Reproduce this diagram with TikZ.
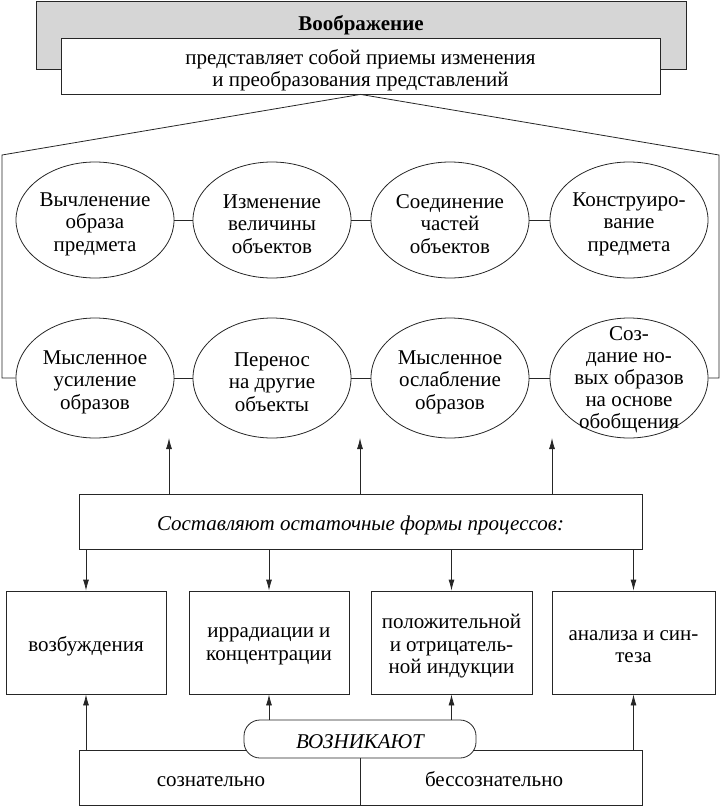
\documentclass[tikz,border=0pt]{standalone}
\usepackage{fontspec}
\setmainfont{Liberation Serif}
\usetikzlibrary{shapes.geometric,arrows.meta}
\begin{document}
\begin{tikzpicture}[x=1pt,y=1pt,
  every node/.style={font=\fontsize{21}{22.5}\selectfont, align=center, inner sep=0pt},
  tx/.style={yshift=-4pt},
  line/.style={line width=0.8pt, draw=black!85},
  arr/.style={line width=0.8pt, draw=black!85, -{Latex[length=11pt,width=6pt]}},
  ell/.style={ellipse, line width=0.8pt, draw=black!85, minimum width=158pt, minimum height=116pt},
  ellb/.style={ell, minimum height=120pt},
  pbox/.style={rectangle, line width=0.8pt, draw=black!85, minimum height=103pt}]
\useasboundingbox (0,0) rectangle (721,-806);
% header
\node[line width=0.8pt, draw=black!85, fill=black!16, minimum width=650pt, minimum height=68pt] (gb) at (361,-35) {};
\node[font=\fontsize{21}{22.5}\selectfont\bfseries] (title) at (361,-25) {Воображение};
\node[line width=0.8pt, draw=black!85, fill=white, minimum width=599pt, minimum height=56pt] (wb) at (360.5,-66) {};
\node[tx] (wbt) at (wb) {представляет собой приемы изменения\\и преобразования представлений};
% ellipses top row
\node[ell] (e1) at (95,-220) {};
\node[ell] (e2) at (272,-220) {};
\node[ell] (e3) at (450,-220) {};
\node[ell] (e4) at (629,-220) {};
\node[tx] (t1) at (e1) {Вычленение\\образа\\предмета};
\node[tx] (t2) at (e2) {Изменение\\величины\\объектов};
\node[tx] (t3) at (e3) {Соединение\\частей\\объектов};
\node[tx] (t4) at (e4) {Конструиро-\\вание\\предмета};
% bottom row
\node[ellb] (e5) at (95,-378) {};
\node[ellb] (e6) at (272,-378) {};
\node[ellb] (e7) at (450,-378) {};
\node[ellb] (e8) at (629,-378) {};
\node[tx] (t5) at (e5) {Мысленное\\усиление\\образов};
\node[tx] (t6) at (e6) {Перенос\\на другие\\объекты};
\node[tx] (t7) at (e7) {Мысленное\\ослабление\\образов};
\node[font=\fontsize{21}{22}\selectfont, yshift=-2pt] (t8) at (e8) {Соз-\\дание но-\\вых образов\\на основе\\обобщения};
\draw[line] (e1) -- (e2); \draw[line] (e2) -- (e3); \draw[line] (e3) -- (e4);
\draw[line] (e5) -- (e6); \draw[line] (e6) -- (e7); \draw[line] (e7) -- (e8);
% roof
\coordinate (lroof) at (2,-155);
\coordinate (rroof) at (719,-155);
\draw[line] (e5.west) -- (e5.west -| lroof) -- (lroof) -- (wb.south) -- (rroof) -- (rroof |- e8.east) -- (e8.east);
% middle box
\node[line width=0.8pt, draw=black!85, minimum width=563pt, minimum height=55pt] (sost) at (360.5,-521.5) {};
\node[tx, font=\fontsize{21}{22.5}\selectfont\itshape] (sostt) at (sost) {Составляют остаточные формы процессов:};
\coordinate (u1) at (169,-438);
\coordinate (u2) at (360,-438);
\coordinate (u3) at (552,-438);
\foreach \u in {u1,u2,u3} \draw[arr] (sost.north -| \u) -- (\u);
% process boxes
\node[pbox, minimum width=160pt] (b1) at (86,-642.5) {};
\node[pbox, minimum width=160pt] (b2) at (269,-642.5) {};
\node[pbox, minimum width=161pt] (b3) at (451.5,-642.5) {};
\node[pbox, minimum width=163pt] (b4) at (633.5,-642.5) {};
\node[tx] (bt1) at (b1) {возбуждения};
\node[tx] (bt2) at (b2) {иррадиации и\\концентрации};
\node[tx] (bt3) at (b3) {положительной\\и отрицатель-\\ной индукции};
\node[tx] (bt4) at (b4) {анализа и син-\\теза};
\foreach \b in {b1,b2,b3,b4} \draw[arr] (sost.south -| \b.north) -- (\b.north);
% bottom
\node[line width=0.8pt, draw=black!85, minimum width=563pt, minimum height=55pt] (bot) at (360.5,-777.5) {};
\node[anchor=base] (soz) at (211,-786) {сознательно};
\node[anchor=base] (bes) at (494,-786) {бессознательно};
\node[line width=0.8pt, draw=black!85, fill=white, rounded corners=16pt, minimum width=232pt, minimum height=38pt] (vz) at (360,-739) {};
\node[yshift=-3pt, font=\fontsize{21}{22.5}\selectfont\itshape] (vzt) at (vz) {ВОЗНИКАЮТ};
\draw[line] (vz.south) -- (vz.south |- bot.south);
\draw[arr] (bot.north -| b1.south) -- (b1.south);
\draw[arr] (vz.north -| b2.south) -- (b2.south);
\draw[arr] (vz.north -| b3.south) -- (b3.south);
\draw[arr] (bot.north -| b4.south) -- (b4.south);
\end{tikzpicture}
\end{document}
